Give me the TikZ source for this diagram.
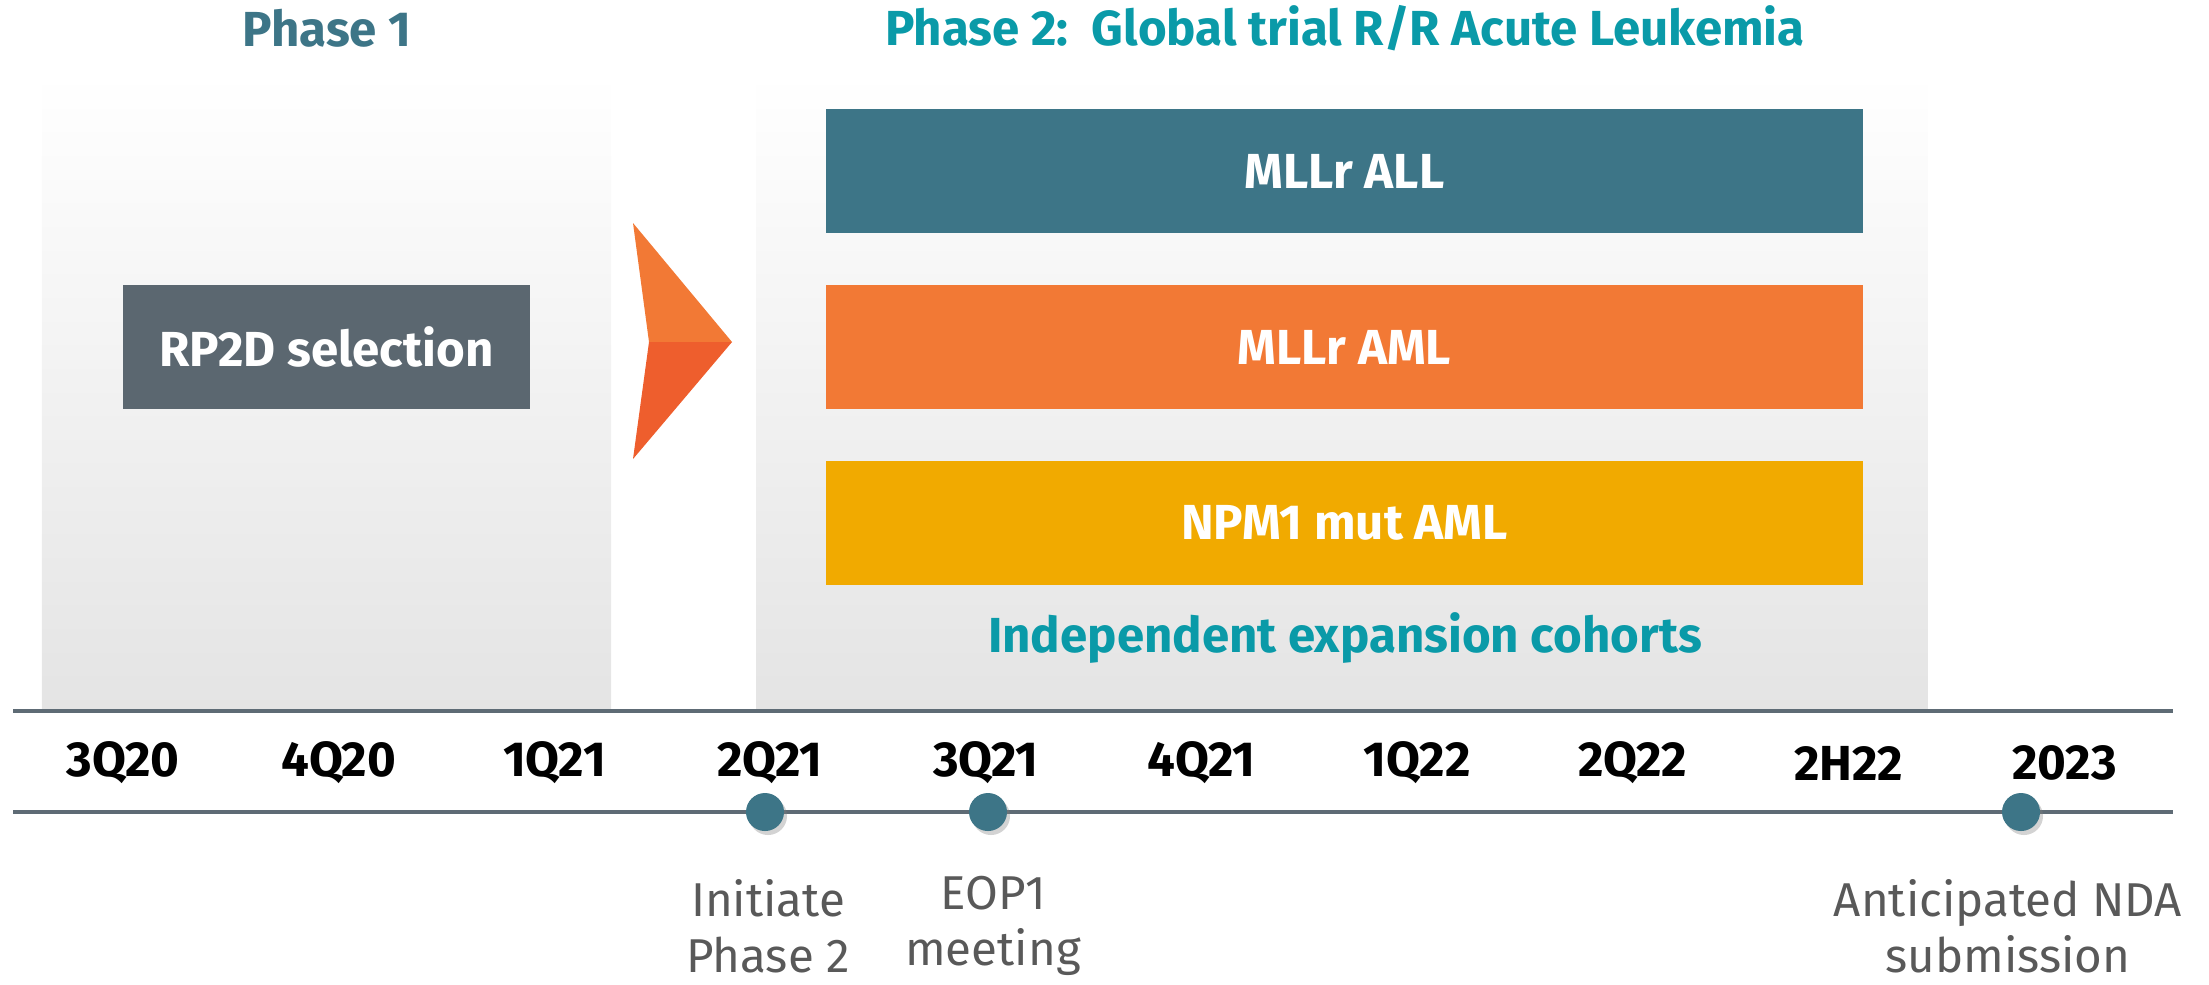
\documentclass[tikz,border=0pt]{standalone}
\usepackage{fontspec}
\setmainfont{Fira Sans}
\usepackage{xcolor}
\usepackage{tikz}
\usetikzlibrary{shadows}
\definecolor{tealdk}{HTML}{3D7587}
\definecolor{tealbr}{HTML}{0A9AA8}
\definecolor{orng}{HTML}{F27935}
\definecolor{orngdk}{HTML}{EE5E2D}
\definecolor{yllw}{HTML}{F1AA00}
\definecolor{slate}{HTML}{5B6770}
\definecolor{tline}{HTML}{5E6B75}
\definecolor{grtxt}{HTML}{595959}
\definecolor{panelbot}{HTML}{E4E4E4}
\tikzset{
  panel/.style={rectangle, inner sep=0pt, top color=white, bottom color=panelbot, minimum height=6.38cm},
  bar/.style={rectangle, inner sep=0pt, text=white, font=\bfseries\fontsize{14}{16}\selectfont, minimum width=10.37cm, minimum height=1.23cm},
  ttl/.style={font=\bfseries\fontsize{14}{16}\selectfont},
  qtr/.style={font=\bfseries\fontsize{14}{16}\selectfont, text=black},
  mstone/.style={circle, fill=tealdk, inner sep=0pt, minimum size=0.38cm, drop shadow={shadow xshift=0.03cm, shadow yshift=-0.04cm, opacity=0.35}},
  mlabel/.style={align=center, text=grtxt, font=\fontsize{13.5}{16}\selectfont},
  tl/.style={tline, line width=0.9pt}
}
\begin{document}
\begin{tikzpicture}[x=0.01cm, y=-0.01cm]
\useasboundingbox (0,0) rectangle (2209,984);
% phase panels
\node[panel, minimum width=5.69cm] (p1) at (326.5,392) {};
\node[panel, minimum width=11.70cm] (p2) at (1342,392) {};
\node[ttl, text=tealdk] (t1) at (327,28) {Phase 1};
\node[ttl, text=tealbr] (t2) at (1345,28) {Phase 2:\ \ Global trial R/R Acute Leukemia};
\node[bar, fill=slate, minimum width=4.07cm, minimum height=1.24cm] (rp) at (326.5,347) {RP2D selection};
% arrow between phases
\fill[orng] (633,223) -- (732,342) -- (649,342) -- cycle;
\fill[orngdk] (649,342) -- (732,342) -- (633,459) -- cycle;
% cohorts
\node[bar, fill=tealdk] (c1) at (1344.5,171) {MLLr ALL};
\node[bar, fill=orng, minimum height=1.24cm] (c2) at (1344.5,347) {MLLr AML};
\node[bar, fill=yllw, minimum height=1.24cm] (c3) at (1344.5,523) {NPM1 mut AML};
\node[ttl, text=tealbr] (ind) at (1345,638) {Independent expansion cohorts};
% timeline
\coordinate (la) at (13,711); \coordinate (lb) at (2173,711);
\coordinate (lc) at (13,812); \coordinate (ld) at (2173,812);
\draw[tl] (la) -- (lb);
\draw[tl] (lc) -- (ld);
\foreach \q [count=\i from 0] in {3Q20,4Q20,1Q21,2Q21,3Q21,4Q21,1Q22,2Q22,2H22,2023}
  \node[qtr] (q\i) at (123+215.7*\i,763) {\q};
\node[mstone] (m1) at (765,812) {};
\node[mstone] (m2) at (988,812) {};
\node[mstone] (m3) at (2021,812) {};
\node[mlabel] (l1) at (768,926) {Initiate\\Phase 2};
\node[mlabel] (l2) at (993,926) {EOP1\\meeting};
\node[mlabel] (l3) at (2008,926) {Anticipated NDA\\submission};
\end{tikzpicture}
\end{document}
